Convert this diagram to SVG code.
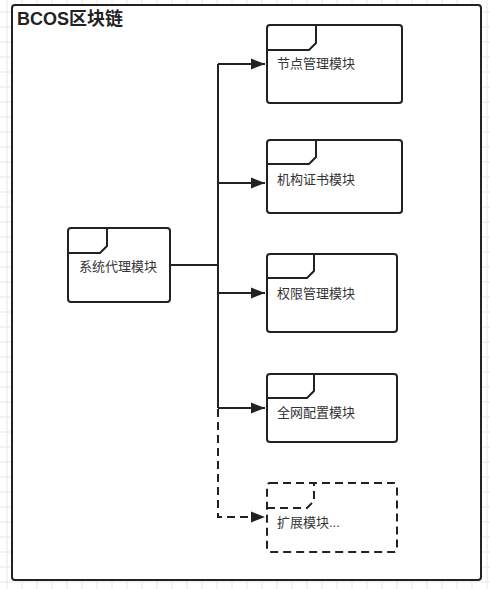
<svg xmlns="http://www.w3.org/2000/svg" width="490" height="589" viewBox="0 0 490 589">
<defs>
<pattern id="grid" x="6.5" y="11.5" width="15" height="15" patternUnits="userSpaceOnUse">
<path d="M0.5 0 V15 M0 0.5 H15" fill="none" stroke="#e6e6e6" stroke-width="1"/>
</pattern>
<marker id="arr" markerUnits="userSpaceOnUse" markerWidth="16" markerHeight="12" refX="14" refY="6" orient="auto">
<path d="M0 0.5 L14 6 L0 11.5 Z" fill="#222"/>
</marker>
<style>
.box{fill:#fff;stroke:#222;stroke-width:2}
.tab{fill:none;stroke:#222;stroke-width:2}
.dash{stroke-dasharray:8 5}
.lbl{font-family:"Liberation Sans","Noto Sans CJK SC",sans-serif;font-size:13px;fill:#333}
.title{font-family:"Liberation Sans","Noto Sans CJK SC",sans-serif;font-size:18px;font-weight:bold;fill:#222}
.ln{fill:none;stroke:#222;stroke-width:2}
</style>
</defs>
<rect width="490" height="589" fill="#fff"/>
<rect width="490" height="589" fill="url(#grid)"/>
<g id="frame">
<rect x="12" y="5" width="469" height="575" rx="3" class="box"/>
<text x="17" y="25" class="title">BCOS区块链</text>
</g>
<g id="connectors">
<path class="ln" d="M170 265 H218 M218 64 V408"/>
<path class="ln" d="M218 64 H265" marker-end="url(#arr)"/>
<path class="ln" d="M218 183 H265" marker-end="url(#arr)"/>
<path class="ln" d="M218 293 H265" marker-end="url(#arr)"/>
<path class="ln" d="M218 408 H265" marker-end="url(#arr)"/>
<path class="ln dash" d="M218 409 V517 H265" marker-end="url(#arr)"/>
</g>
<g id="node-sys">
<rect x="68" y="228" width="102" height="74" rx="3" class="box"/>
<path class="tab" d="M68 253 H100 L107 246 V228"/>
<text x="79" y="271" class="lbl">系统代理模块</text>
</g>
<g id="node-1">
<rect x="267" y="25" width="135" height="78" rx="3" class="box"/>
<path class="tab" d="M267 50 H309 L316 43 V25"/>
<text x="277" y="68" class="lbl">节点管理模块</text>
</g>
<g id="node-2">
<rect x="267" y="140" width="135" height="73" rx="3" class="box"/>
<path class="tab" d="M267 164 H309 L316 157 V140"/>
<text x="277" y="184" class="lbl">机构证书模块</text>
</g>
<g id="node-3">
<rect x="267" y="254" width="130" height="78" rx="3" class="box"/>
<path class="tab" d="M267 278 H307 L314 271 V254"/>
<text x="277" y="298" class="lbl">权限管理模块</text>
</g>
<g id="node-4">
<rect x="267" y="374" width="130" height="68" rx="3" class="box"/>
<path class="tab" d="M267 398 H307 L314 391 V374"/>
<text x="277" y="417" class="lbl">全网配置模块</text>
</g>
<g id="node-5">
<rect x="267" y="483" width="130" height="69" rx="3" class="box dash"/>
<path class="tab dash" d="M267 508 H307 L314 501 V483"/>
<text x="277" y="527" class="lbl">扩展模块...</text>
</g>
</svg>
